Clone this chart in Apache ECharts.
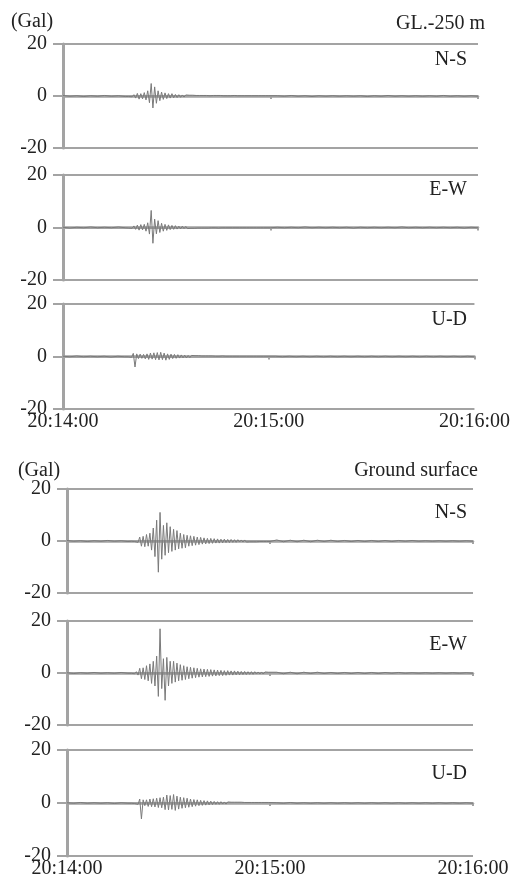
<!DOCTYPE html>
<html>
<head>
<meta charset="utf-8">
<script src="https://cdn.jsdelivr.net/npm/echarts@6/dist/echarts.min.js"></script>
<style>
html,body{margin:0;padding:0;background:#fff;}
#c{width:513px;height:884px;}
</style>
</head>
<body>
<div id="c"></div>
<script>
// time in seconds after 20:14:00
const times = [0,2,4,6,8,10,12,14,16,18,
  18.5,19,19.5,20,20.5,21,21.5,22,22.5,23,
  23.5,24,24.5,25,25.5,26,26.5,27,27.5,28,
  28.5,29,29.5,30,30.5,31,31.5,32,32.5,33,
  33.5,34,34.5,35,35.5,36,36.5,37,37.5,38,
  38.5,39,39.5,40,40.5,41,41.5,42,42.5,43,
  43.5,44,44.5,45,45.5,46,46.5,47,47.5,48,
  48.5,49,49.5,50,50.5,51,51.5,52,52.5,53,
  53.5,54,54.5,55,55.5,56,56.5,57,57.5,58,
  58.5,59,59.5,60,
  62,64,66,68,70,72,74,76,78,80,
  82,84,86,88,90,92,94,96,98,100,
  102,104,106,108,110,112,114,116,118,120];

const timeTicks = ['20:14:00','20:15:00','20:16:00'];
const yTicks = [-20, 0, 20];

// GL.-250 m
const glNS = [0.2,-0.1,0.1,-0.2,0.1,-0.1,0.2,-0.1,0.1,-0.2,
  0.1,-0.2,0.2,-0.3,0.5,-0.8,1.0,-1.2,0.9,-1.1,
  1.3,-1.5,2.0,-2.6,4.8,-4.6,3.5,-2.8,2.0,-1.8,
  1.5,-1.3,1.2,-1.0,0.9,-0.8,0.9,-0.7,0.6,-0.6,
  0.5,-0.5,0.4,-0.4,0.4,-0.3,0.3,-0.3,0.3,-0.2,
  0.2,-0.2,0.2,-0.2,0.2,-0.2,0.2,-0.1,0.1,-0.1,
  0.2,-0.2,0.2,-0.1,0.2,-0.1,0.1,-0.2,0.1,-0.1,
  0.1,-0.1,0.2,-0.1,0.1,-0.1,0.1,-0.1,0.1,-0.1,
  0.1,-0.1,0.1,-0.1,0.1,-0.1,0.1,-0.1,0.1,-0.1,
  0.1,-0.1,0.1,-0.1,
  0.1,-0.1,0.2,-0.1,0.1,-0.2,0.1,-0.1,0.1,-0.1,
  0.1,-0.1,0.1,-0.2,0.1,-0.1,0.2,-0.1,0.1,-0.1,
  0.1,-0.1,0.1,-0.1,0.2,-0.1,0.1,-0.1,0.1,-0.1];
const glEW = [0.1,-0.2,0.1,-0.1,0.2,-0.1,0.1,-0.1,0.2,-0.1,
  0.1,-0.2,0.3,-0.3,0.6,-0.7,0.9,-1.0,1.1,-0.9,
  1.2,-1.4,1.8,-2.5,6.5,-6.0,3.2,-2.4,2.6,-1.9,
  1.6,-1.4,1.2,-1.1,1.0,-0.8,0.8,-0.7,0.7,-0.6,
  0.5,-0.5,0.5,-0.4,0.4,-0.4,0.3,-0.3,0.3,-0.3,
  0.3,-0.2,0.3,-0.2,0.2,-0.2,0.2,-0.2,0.2,-0.1,
  0.2,-0.1,0.2,-0.2,0.1,-0.1,0.2,-0.1,0.1,-0.1,
  0.1,-0.1,0.1,-0.1,0.2,-0.1,0.1,-0.1,0.1,-0.1,
  0.1,-0.1,0.1,-0.1,0.1,-0.1,0.1,-0.1,0.1,-0.1,
  0.1,-0.1,0.1,-0.1,
  0.1,-0.1,0.1,-0.1,0.2,-0.1,0.1,-0.1,0.1,-0.1,
  0.1,-0.2,0.1,-0.1,0.1,-0.1,0.1,-0.1,0.2,-0.1,
  0.1,-0.1,0.1,-0.1,0.1,-0.1,0.1,-0.2,0.1,-0.1];
const glUD = [0.1,-0.1,0.2,-0.1,0.1,-0.1,0.1,-0.2,0.1,-0.1,
  0.1,-0.1,0.2,-0.3,1.2,-4.0,1.0,-0.8,0.9,-0.7,
  0.8,-0.9,1.0,-1.1,1.3,-1.0,1.4,-1.2,1.5,-1.3,
  1.6,-1.2,1.3,-1.4,1.0,-1.1,0.9,-0.8,0.8,-0.7,
  0.7,-0.6,0.6,-0.5,0.5,-0.5,0.4,-0.4,0.4,-0.3,
  0.3,-0.3,0.3,-0.2,0.2,-0.2,0.2,-0.2,0.2,-0.2,
  0.2,-0.2,0.1,-0.2,0.1,-0.1,0.2,-0.1,0.1,-0.1,
  0.1,-0.1,0.1,-0.1,0.1,-0.1,0.1,-0.1,0.1,-0.1,
  0.1,-0.1,0.1,-0.1,0.1,-0.1,0.1,-0.1,0.1,-0.1,
  0.1,-0.1,0.1,-0.1,
  0.1,-0.1,0.1,-0.1,0.1,-0.1,0.1,-0.1,0.1,-0.1,
  0.1,-0.1,0.1,-0.1,0.1,-0.1,0.1,-0.1,0.1,-0.1,
  0.1,-0.1,0.1,-0.1,0.1,-0.1,0.1,-0.1,0.1,-0.1];

// Ground surface
const gsNS = [0.2,-0.1,0.1,-0.2,0.1,-0.1,0.2,-0.1,0.1,-0.2,
  0.1,-0.1,0.2,-0.2,0.3,-0.5,1.5,-2.0,1.8,-2.2,
  2.5,-2.0,3.0,-3.5,5.0,-6.0,8.0,-12.0,11.0,-7.0,
  6.0,-5.5,7.0,-4.5,5.5,-4.0,4.5,-3.5,4.0,-3.0,
  3.0,-2.8,2.5,-2.6,2.2,-2.0,2.0,-1.8,1.8,-1.6,
  1.5,-1.4,1.4,-1.2,1.2,-1.1,1.0,-1.0,1.0,-0.9,
  0.9,-0.8,0.8,-0.8,0.7,-0.7,0.7,-0.6,0.6,-0.6,
  0.6,-0.5,0.5,-0.5,0.5,-0.4,0.4,-0.4,0.4,-0.4,
  0.3,-0.3,0.3,-0.3,0.3,-0.3,0.3,-0.2,0.2,-0.2,
  0.2,-0.2,0.2,-0.2,
  0.4,-0.3,0.3,-0.3,0.3,-0.3,0.3,-0.2,0.3,-0.2,
  0.2,-0.2,0.2,-0.2,0.2,-0.2,0.2,-0.2,0.2,-0.1,
  0.2,-0.1,0.1,-0.1,0.1,-0.1,0.1,-0.1,0.1,-0.1];
const gsEW = [0.1,-0.2,0.1,-0.1,0.2,-0.1,0.1,-0.1,0.2,-0.1,
  0.1,-0.1,0.2,-0.3,0.5,-0.8,1.8,-2.2,2.0,-2.5,
  2.8,-3.0,3.5,-4.0,4.5,-5.0,6.5,-9.0,17.0,-6.0,
  5.5,-10.5,6.0,-5.0,4.5,-4.0,4.5,-3.5,3.8,-3.0,
  3.2,-2.8,2.8,-2.5,2.4,-2.2,2.2,-2.0,2.0,-1.8,
  1.8,-1.6,1.6,-1.5,1.5,-1.4,1.4,-1.3,1.3,-1.2,
  1.2,-1.1,1.1,-1.0,1.0,-1.0,0.9,-0.9,0.9,-0.8,
  0.8,-0.8,0.8,-0.7,0.7,-0.7,0.6,-0.6,0.6,-0.6,
  0.5,-0.5,0.5,-0.5,0.5,-0.4,0.4,-0.4,0.4,-0.4,
  0.4,-0.3,0.3,-0.3,
  0.3,-0.3,0.3,-0.3,0.3,-0.2,0.3,-0.2,0.2,-0.2,
  0.2,-0.2,0.2,-0.2,0.2,-0.2,0.2,-0.1,0.2,-0.1,
  0.1,-0.1,0.1,-0.1,0.1,-0.1,0.1,-0.1,0.1,-0.1];
const gsUD = [0.1,-0.1,0.2,-0.1,0.1,-0.1,0.1,-0.2,0.1,-0.1,
  0.1,-0.1,0.1,-0.2,0.3,-0.5,1.5,-6.0,1.2,-1.0,
  1.2,-1.3,1.5,-1.4,1.6,-1.5,1.8,-1.7,2.0,-1.8,
  2.2,-2.5,3.0,-2.6,2.8,-2.4,3.2,-2.8,2.6,-2.3,
  2.2,-2.0,2.0,-1.8,1.8,-1.6,1.5,-1.4,1.3,-1.2,
  1.2,-1.0,1.0,-0.9,0.9,-0.8,0.8,-0.7,0.7,-0.6,
  0.6,-0.5,0.5,-0.5,0.5,-0.4,0.4,-0.4,0.4,-0.3,
  0.3,-0.3,0.3,-0.3,0.3,-0.2,0.3,-0.2,0.2,-0.2,
  0.2,-0.2,0.2,-0.2,0.2,-0.2,0.2,-0.1,0.2,-0.1,
  0.2,-0.2,0.2,-0.2,
  0.1,-0.1,0.2,-0.1,0.1,-0.1,0.1,-0.1,0.1,-0.1,
  0.1,-0.1,0.1,-0.1,0.1,-0.1,0.1,-0.1,0.1,-0.1,
  0.1,-0.1,0.1,-0.1,0.1,-0.1,0.1,-0.1,0.1,-0.1];

const traces = [glNS, glEW, glUD, gsNS, gsEW, gsUD];
const compNames = ['N-S','E-W','U-D','N-S','E-W','U-D'];

const FONT = 'Liberation Serif';
const AX = '#a3a3a3';
const TXT = '#222';

// layout (pixels)
const gridBoxes = [
  {left:63, width:415, top:44, height:104},
  {left:63, width:415, top:175, height:105},
  {left:63, width:415, top:304, height:105},
  {left:67, width:406, top:489, height:104},
  {left:67, width:406, top:621, height:104},
  {left:67, width:406, top:750, height:106}
];

const grid = gridBoxes.map(g => Object.assign({containLabel:false}, g));

const xAxis = gridBoxes.map((g, i) => ({
  type:'value', gridIndex:i, min:0, max:120, interval:60,
  axisLine:{show:true, lineStyle:{color:AX, width:2.5}},
  axisTick:{show:true, length:3, lineStyle:{color:AX, width:2}},
  splitLine:{show:false},
  axisLabel:{show:(i===2||i===5), color:TXT, fontFamily:FONT, fontSize:20, margin:3,
    formatter: v => timeTicks[Math.round(v/60)]}
}));

const yAxis = gridBoxes.map((g, i) => ({
  type:'value', gridIndex:i, min:yTicks[0], max:yTicks[2], interval:20,
  axisLine:{show:true, onZero:false, lineStyle:{color:AX, width:3}},
  axisTick:{show:true, length:10, lineStyle:{color:AX, width:2}},
  splitLine:{show:true, lineStyle:{color:AX, width:2}},
  axisLabel:{color:TXT, fontFamily:FONT, fontSize:20, margin:16}
}));

const series = traces.map((vals, i) => ({
  type:'line', xAxisIndex:i, yAxisIndex:i,
  data: times.map((t, k) => [t, vals[k]]),
  showSymbol:false, symbol:'none',
  lineStyle:{color:'#7a7a7a', width:1},
  silent:true
}));

const textEl = (text, x, y, align) => ({
  type:'text', left:undefined, x:x, y:y,
  style:{text:text, fill:TXT, font:'20px "' + FONT + '"', textAlign:align, textVerticalAlign:'middle'}
});

const labelOffsets = [16,15,16,24,24,24];
const graphic = [
  textEl('(Gal)', 32, 22, 'center'),
  textEl('GL.-250 m', 485, 24, 'right'),
  textEl('(Gal)', 39, 471, 'center'),
  textEl('Ground surface', 478, 471, 'right')
].concat(gridBoxes.map((g, i) => textEl(compNames[i], 467, g.top + labelOffsets[i], 'right')));

const chart = echarts.init(document.getElementById('c'), null, {renderer:'canvas'});
chart.setOption({
  animation:false,
  backgroundColor:'#fff',
  grid, xAxis, yAxis, series, graphic
});
</script>
</body>
</html>
